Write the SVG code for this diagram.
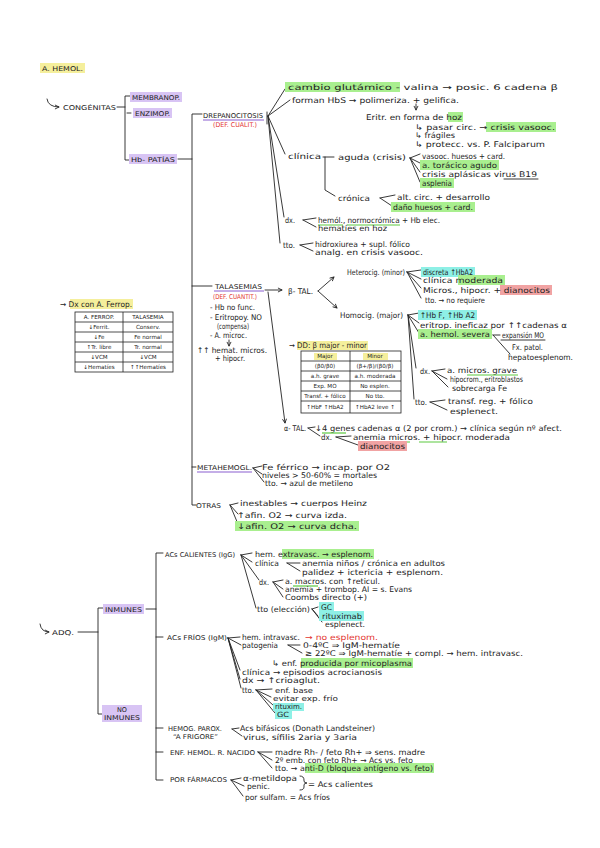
<svg xmlns="http://www.w3.org/2000/svg" width="600" height="848" viewBox="0 0 600 848">
<defs>
<style>
text{font-family:"DejaVu Sans","Liberation Sans",sans-serif;font-size:7.8px;fill:#222}
.u{font-size:6.6px}
.s{font-size:5.6px}
.r{fill:#e3342f}
.hg{fill:#a9ef8f}
.hp{fill:#d8c4f4}
.hy{fill:#f5ef9c}
.hc{fill:#8ef0e6}
.hr{fill:#f1a3a3}
.ln{fill:none;stroke:#222;stroke-width:0.9;stroke-linecap:round}
.ul{fill:none;stroke-width:1.2}
.pu{stroke:#8a5fd0}
.gu{stroke:#5cc940}
.tb{fill:none;stroke:#222;stroke-width:0.8}
</style>
<marker id="ah" viewBox="0 0 8 8" refX="7" refY="4" markerWidth="6" markerHeight="6" orient="auto"><path d="M1,1 L7,4 L1,7" fill="none" stroke="#222" stroke-width="1.3"/></marker>
</defs>
<rect width="600" height="848" fill="#ffffff"/>

<g id="connectors">
<path class="ln" d="M47,99 Q48,107 59,107" marker-end="url(#ah)"/>
<path class="ln" d="M117,107 H125 M130,96 H125 V160 H130 M127,113 H131"/>
<path class="ln" d="M178,159 H192 M202,114 H192 V505 H196 M192,286 H212 M192,467 H196"/>
<path class="ln" d="M267,112 V124" stroke-width="2"/>
<path class="ln" d="M268,116 L285,89 M268,116 L290,100 M268,116 L285,154 M268,116 L284,217 M268,116 L280,243"/>
<path class="ln" d="M416,104 V110" marker-end="url(#ah)"/>
<path class="ln" d="M323,157 H334 M325,157 V190 L335,196"/>
<path class="ln" d="M410,158 L420,154 M410,158 L420,163 M410,158 L420,172 M410,158 L420,182"/>
<path class="ln" d="M380,198 L395,195 M380,198 L392,206"/>
<path class="ln" d="M303,220 L316,218 M303,220 L316,227"/>
<path class="ln" d="M300,245 L313,243 M300,245 L313,251"/>
<path class="ln" d="M265,290 H282" marker-end="url(#ah)"/>
<path class="ln" d="M268,292 L285,423" marker-end="url(#ah)"/>
<path class="ln" d="M229,340 V346" marker-end="url(#ah)"/>
<path class="ln" d="M318,291 L334,277" marker-end="url(#ah)"/>
<path class="ln" d="M318,291 L337,308" marker-end="url(#ah)"/>
<path class="ln" d="M407,272 L421,270 M407,272 L421,279 M407,272 L421,288 M407,272 L421,298"/>
<path class="ln" d="M408,315 L419,313 M408,315 L419,323 M408,315 L419,333 M408,315 L416,368 M408,315 L414,399"/>
<path class="ln" d="M493,335 H500 M493,335 L510,354"/>
<path class="ln" d="M432,371 L445,369 M432,371 L447,379 M432,371 L448,387"/>
<path class="ln" d="M430,402 L445,400 M430,402 L447,410"/>
<path class="ln" d="M308,428 L315,427 M308,428 L320,436"/>
<path class="ln" d="M336,437 L351,436 M336,437 L358,445"/>
<path class="ln" d="M253,468 L262,466 M253,468 L262,474 M253,468 L264,482"/>
<path class="ln" d="M230,505 L238,503 M230,505 L238,514 M230,505 L238,524"/>
<path class="ln" d="M40,624 Q41,632 49,632" marker-end="url(#ah)"/>
<path class="ln" d="M78,632 H98 M104,608 H98 V714 H104"/>
<path class="ln" d="M146,609 H156 M163,553 H156 V780 H163 M156,637 H163 M156,728 H163 M156,752 H163"/>
<path class="ln" d="M241,555 L252,553 M241,555 L252,562 M241,555 L259,580 M241,555 L256,608"/>
<path class="ln" d="M287,563 L300,563 M287,563 L300,571"/>
<path class="ln" d="M273,582 L283,580 M273,582 L283,589 M273,582 L283,597"/>
<path class="ln" d="M312,609 L318,607 M312,609 L318,616 M312,609 L322,622"/>
<path class="ln" d="M228,638 L240,637 M228,638 L241,645 M228,638 L240,670 M228,638 L240,679 M228,638 L241,688"/>
<path class="ln" d="M288,645 L300,645 M288,645 L302,653"/>
<path class="ln" d="M256,690 L272,689 M256,690 L271,697 M256,690 L273,705 M256,690 L275,713"/>
<path class="ln" d="M232,729 L239,728 M232,729 L242,736"/>
<path class="ln" d="M258,752 L272,752 M258,752 L272,760 M258,752 L272,768"/>
<path class="ln" d="M231,780 L241,778 M231,780 L244,786 M231,780 L243,796"/>
<path class="ln" d="M300,776 Q304,776 304,780 V781 Q304,783 307,783 Q304,783 304,785 V787 Q304,790 300,790"/>
</g>

<g id="title">
<rect class="hy" x="40" y="63" width="45" height="10"/>
<text class="u" x="42" y="71" textLength="41" lengthAdjust="spacingAndGlyphs">A. HEMOL.</text>
</g>

<g id="congenitas">
<text class="u" x="63" y="110" textLength="53" lengthAdjust="spacingAndGlyphs">CONGÉNITAS</text>
</g>
<g id="membranop">
<rect class="hp" x="130" y="92" width="52" height="10"/>
<text class="u" x="132" y="100" textLength="48" lengthAdjust="spacingAndGlyphs">MEMBRANOP.</text>
</g>
<g id="enzimop">
<rect class="hp" x="133" y="108" width="39" height="10"/>
<text class="u" x="135" y="116" textLength="35" lengthAdjust="spacingAndGlyphs">ENZIMOP.</text>
</g>
<g id="hbpatias">
<rect class="hp" x="129" y="154" width="48" height="10"/>
<text class="u" x="131" y="162" textLength="44" lengthAdjust="spacingAndGlyphs">Hb- PATÍAS</text>
</g>

<g id="drepanocitosis">
<text class="u" x="203" y="118" textLength="60" lengthAdjust="spacingAndGlyphs">DREPANOCITOSIS</text>
<path class="ul pu" d="M203,120 H264"/>
<text class="u r" x="213" y="127" textLength="44" lengthAdjust="spacingAndGlyphs">(DEF. CUALIT.)</text>
</g>
<g id="drep-detalle">
<rect class="hg" x="285" y="82" width="115" height="10"/>
<text x="288" y="90" textLength="270" lengthAdjust="spacingAndGlyphs">cambio glutámico - valina → posic. 6 cadena β</text>
<text x="292" y="103" textLength="167" lengthAdjust="spacingAndGlyphs">forman HbS → polimeriza. + gelifica.</text>
<rect class="hg" x="448" y="112" width="15" height="10"/>
<text x="366" y="120" textLength="96" lengthAdjust="spacingAndGlyphs">Eritr. en forma de hoz</text>
<rect class="hg" x="486" y="122" width="70" height="10"/>
<text x="415" y="130" textLength="140" lengthAdjust="spacingAndGlyphs">↳ pasar circ. → crisis vasooc.</text>
<text x="415" y="138" textLength="40" lengthAdjust="spacingAndGlyphs">↳ frágiles</text>
<text x="415" y="147" textLength="130" lengthAdjust="spacingAndGlyphs">↳ protecc. vs. P. Falciparum</text>
<text x="288" y="159" textLength="33" lengthAdjust="spacingAndGlyphs">clínica</text>
<text x="338" y="160" textLength="68" lengthAdjust="spacingAndGlyphs">aguda (crisis)</text>
<text x="422" y="159" textLength="83" lengthAdjust="spacingAndGlyphs">vasooc. huesos + card.</text>
<rect class="hg" x="420" y="160" width="79" height="10"/>
<text x="422" y="168" textLength="75" lengthAdjust="spacingAndGlyphs">a. torácico agudo</text>
<text x="422" y="177" textLength="115" lengthAdjust="spacingAndGlyphs">crisis aplásicas virus B19</text>
<path class="ln" d="M504,179 H538"/>
<rect class="hg" x="420" y="178" width="34" height="10"/>
<text x="422" y="186" textLength="30" lengthAdjust="spacingAndGlyphs">asplenia</text>
<text x="338" y="201" textLength="32" lengthAdjust="spacingAndGlyphs">crónica</text>
<text x="397" y="200" textLength="93" lengthAdjust="spacingAndGlyphs">alt. circ. + desarrollo</text>
<rect class="hg" x="391" y="202" width="84" height="10"/>
<text x="393" y="210" textLength="80" lengthAdjust="spacingAndGlyphs">daño huesos + card.</text>
<text x="285" y="223" textLength="10" lengthAdjust="spacingAndGlyphs">dx.</text>
<text x="318" y="223" textLength="122" lengthAdjust="spacingAndGlyphs">hemól., normocrómica + Hb elec.</text>
<path class="ul gu" d="M318,225 H343 M347,225 H400"/>
<text x="318" y="231" textLength="69" lengthAdjust="spacingAndGlyphs">hematíes en hoz</text>
<text x="283" y="248" textLength="12" lengthAdjust="spacingAndGlyphs">tto.</text>
<text x="315" y="247" textLength="95" lengthAdjust="spacingAndGlyphs">hidroxiurea + supl. fólico</text>
<text x="315" y="255" textLength="108" lengthAdjust="spacingAndGlyphs">analg. en crisis vasooc.</text>
</g>

<g id="dx-ferrop">
<rect class="hy" x="70" y="299" width="63" height="10"/>
<text x="60" y="307" textLength="72" lengthAdjust="spacingAndGlyphs">→ Dx con A. Ferrop.</text>
<rect class="tb" x="75" y="312" width="98" height="60"/>
<path class="tb" d="M123,312 V372 M75,322 H173 M75,332 H173 M75,342 H173 M75,352 H173 M75,362 H173"/>
<g text-anchor="middle">
<text class="s" x="99" y="319">A. FERROP.</text><text class="s" x="148" y="319">TALASEMIA</text>
<text class="s" x="99" y="329">↓Ferrit.</text><text class="s" x="148" y="329">Conserv.</text>
<text class="s" x="99" y="339">↓Fe</text><text class="s" x="148" y="339">Fe normal</text>
<text class="s" x="99" y="349">↑Tr. libre</text><text class="s" x="148" y="349">Tr. normal</text>
<text class="s" x="99" y="359">↓VCM</text><text class="s" x="148" y="359">↓VCM</text>
<text class="s" x="99" y="369">↓Hematíes</text><text class="s" x="148" y="369">↑↑Hematíes</text>
</g>
</g>

<g id="talasemias">
<text class="u" x="215" y="289" textLength="47" lengthAdjust="spacingAndGlyphs">TALASEMIAS</text>
<path class="ul pu" d="M214,291 H264"/>
<text class="u r" x="213" y="299" textLength="44" lengthAdjust="spacingAndGlyphs">(DEF. CUANTIT.)</text>
<text x="210" y="310" textLength="45" lengthAdjust="spacingAndGlyphs">- Hb no func.</text>
<text x="210" y="320" textLength="52" lengthAdjust="spacingAndGlyphs">- Eritropoy. NO</text>
<text x="217" y="329" textLength="32" lengthAdjust="spacingAndGlyphs">(compensa)</text>
<text x="210" y="338" textLength="37" lengthAdjust="spacingAndGlyphs">- A. microc.</text>
<text x="197" y="353" textLength="70" lengthAdjust="spacingAndGlyphs">↑↑ hemat. micros.</text>
<text x="215" y="361" textLength="30" lengthAdjust="spacingAndGlyphs">+ hipocr.</text>
</g>

<g id="beta-tal">
<text x="288" y="294" textLength="25" lengthAdjust="spacingAndGlyphs">β- TAL.</text>
<text x="347" y="275" textLength="58" lengthAdjust="spacingAndGlyphs">Heterocig. (minor)</text>
<rect class="hc" x="421" y="267" width="54" height="10"/>
<text x="423" y="275" textLength="50" lengthAdjust="spacingAndGlyphs">discreta ↑HbA2</text>
<rect class="hg" x="458" y="275" width="47" height="10"/>
<text x="423" y="283" textLength="80" lengthAdjust="spacingAndGlyphs">clínica moderada</text>
<rect class="hr" x="500" y="285" width="52" height="10"/>
<text x="423" y="293" textLength="127" lengthAdjust="spacingAndGlyphs">Micros., hipocr. + dianocitos</text>
<text x="425" y="303" textLength="60" lengthAdjust="spacingAndGlyphs">tto. → no requiere</text>
<text x="340" y="318" textLength="63" lengthAdjust="spacingAndGlyphs">Homocig. (major)</text>
<rect class="hc" x="418" y="310" width="59" height="10"/>
<text x="420" y="318" textLength="55" lengthAdjust="spacingAndGlyphs">↑Hb F, ↑Hb A2</text>
<text x="420" y="328" textLength="147" lengthAdjust="spacingAndGlyphs">eritrop. ineficaz por ↑↑cadenas α</text>
<rect class="hg" x="418" y="329" width="74" height="10"/>
<text x="420" y="337" textLength="70" lengthAdjust="spacingAndGlyphs">a. hemol. severa</text>
<text x="502" y="338" textLength="42" lengthAdjust="spacingAndGlyphs">expansión MO</text>
<path class="ln" d="M501,340 H545"/>
<text x="512" y="350" textLength="31" lengthAdjust="spacingAndGlyphs">Fx. patol.</text>
<text x="508" y="360" textLength="65" lengthAdjust="spacingAndGlyphs">hepatoesplenom.</text>
<text x="420" y="374" textLength="10" lengthAdjust="spacingAndGlyphs">dx.</text>
<text x="447" y="373" textLength="70" lengthAdjust="spacingAndGlyphs">a. micros. grave</text>
<path class="ul gu" d="M467,375 H518"/>
<text x="450" y="382" textLength="73" lengthAdjust="spacingAndGlyphs">hipocrom., eritroblastos</text>
<text x="452" y="391" textLength="55" lengthAdjust="spacingAndGlyphs">sobrecarga Fe</text>
<text x="415" y="405" textLength="12" lengthAdjust="spacingAndGlyphs">tto.</text>
<text x="448" y="404" textLength="85" lengthAdjust="spacingAndGlyphs">transf. reg. + fólico</text>
<text x="450" y="414" textLength="48" lengthAdjust="spacingAndGlyphs">esplenect.</text>
</g>

<g id="dd-table">
<rect class="hy" x="297" y="341" width="71" height="9"/>
<text x="289" y="348" textLength="78" lengthAdjust="spacingAndGlyphs">→ DD: β major - minor</text>
<rect class="tb" x="301" y="351" width="100" height="62"/>
<path class="tb" d="M350,351 V413 M301,361 H401 M301,371 H401 M301,381 H401 M301,391 H401 M301,401 H401"/>
<rect class="hy" x="314" y="353" width="23" height="7"/>
<rect class="hy" x="363" y="353" width="25" height="7"/>
<g text-anchor="middle">
<text class="s" x="325" y="358">Major</text><text class="s" x="375" y="358">Minor</text>
<text class="s" x="325" y="368">(β0/β0)</text><text class="s" x="375" y="368">(β+/β)/(β0/β)</text>
<text class="s" x="325" y="378">a.h. grave</text><text class="s" x="375" y="378">a.h. moderada</text>
<text class="s" x="325" y="388">Exp. MO</text><text class="s" x="375" y="388">No esplen.</text>
<text class="s" x="325" y="398">Transf. + fólico</text><text class="s" x="375" y="398">No tto.</text>
<text class="s" x="325" y="409">↑HbF ↑HbA2</text><text class="s" x="375" y="409">↑HbA2 leve ↑</text>
</g>
</g>

<g id="alfa-tal">
<text x="284" y="431" textLength="22" lengthAdjust="spacingAndGlyphs">α- TAL.</text>
<text x="315" y="431" textLength="247" lengthAdjust="spacingAndGlyphs">↓4 genes cadenas α (2 por crom.) → clínica según nº afect.</text>
<path class="ul gu" d="M322,433 H346"/>
<text x="321" y="440" textLength="11" lengthAdjust="spacingAndGlyphs">dx.</text>
<text x="353" y="440" textLength="157" lengthAdjust="spacingAndGlyphs">anemia micros. + hipocr. moderada</text>
<path class="ul gu" d="M384,442 H410 M419,442 H447"/>
<rect class="hr" x="358" y="441" width="49" height="10"/>
<text x="360" y="449" textLength="45" lengthAdjust="spacingAndGlyphs">dianocitos</text>
</g>

<g id="metahemogl">
<text class="u" x="197" y="470" textLength="55" lengthAdjust="spacingAndGlyphs">METAHEMOGL.</text>
<path class="ul pu" d="M197,472 H252"/>
<text x="262" y="470" textLength="128" lengthAdjust="spacingAndGlyphs">Fe férrico → incap. por O2</text>
<text x="262" y="478" textLength="115" lengthAdjust="spacingAndGlyphs">niveles &gt; 50-60% = mortales</text>
<text x="265" y="486" textLength="88" lengthAdjust="spacingAndGlyphs">tto. → azul de metileno</text>
</g>

<g id="otras">
<text class="u" x="196" y="508" textLength="25" lengthAdjust="spacingAndGlyphs">OTRAS</text>
<text x="240" y="506" textLength="127" lengthAdjust="spacingAndGlyphs">inestables → cuerpos Heinz</text>
<text x="237" y="518" textLength="110" lengthAdjust="spacingAndGlyphs">↑afin. O2 → curva izda.</text>
<rect class="hg" x="235" y="521" width="124" height="10"/>
<text x="237" y="529" textLength="120" lengthAdjust="spacingAndGlyphs">↓afin. O2 → curva dcha.</text>
</g>

<g id="adq">
<text class="u" x="52" y="635" textLength="22" lengthAdjust="spacingAndGlyphs">ADQ.</text>
</g>
<g id="inmunes">
<rect class="hp" x="103" y="604" width="41" height="10"/>
<text class="u" x="105" y="612" textLength="37" lengthAdjust="spacingAndGlyphs">INMUNES</text>
</g>
<g id="no-inmunes">
<rect class="hp" x="102" y="705" width="40" height="17"/>
<text class="u" x="117" y="712" textLength="10" lengthAdjust="spacingAndGlyphs">NO</text>
<text class="u" x="104" y="720" textLength="36" lengthAdjust="spacingAndGlyphs">INMUNES</text>
</g>

<g id="acs-calientes">
<text class="u" x="165" y="557" textLength="70" lengthAdjust="spacingAndGlyphs">ACs CALIENTES (IgG)</text>
<rect class="hg" x="282" y="549" width="92" height="10"/>
<text x="255" y="557" textLength="118" lengthAdjust="spacingAndGlyphs">hem. extravasc. → esplenom.</text>
<text x="255" y="566" textLength="24" lengthAdjust="spacingAndGlyphs">clínica</text>
<text x="302" y="566" textLength="143" lengthAdjust="spacingAndGlyphs">anemia niños / crónica en adultos</text>
<text x="302" y="575" textLength="141" lengthAdjust="spacingAndGlyphs">palidez + ictericia + esplenom.</text>
<text x="259" y="585" textLength="10" lengthAdjust="spacingAndGlyphs">dx.</text>
<text x="285" y="584" textLength="95" lengthAdjust="spacingAndGlyphs">a. macros. con ↑reticul.</text>
<path class="ul gu" d="M293,586 H318"/>
<text x="285" y="592" textLength="127" lengthAdjust="spacingAndGlyphs">anemia + trombop. AI = s. Evans</text>
<text x="285" y="600" textLength="82" lengthAdjust="spacingAndGlyphs">Coombs directo (+)</text>
<text x="257" y="612" textLength="53" lengthAdjust="spacingAndGlyphs">tto (elección)</text>
<rect class="hc" x="319" y="602" width="15" height="10"/>
<text x="321" y="610" textLength="11" lengthAdjust="spacingAndGlyphs">GC</text>
<rect class="hc" x="319" y="611" width="45" height="10"/>
<text x="322" y="619" textLength="40" lengthAdjust="spacingAndGlyphs">rituximab</text>
<text x="325" y="627" textLength="40" lengthAdjust="spacingAndGlyphs">esplenect.</text>
</g>

<g id="acs-frios">
<text class="u" x="167" y="640" textLength="60" lengthAdjust="spacingAndGlyphs">ACs FRÍOS (IgM)</text>
<text x="242" y="640" textLength="58" lengthAdjust="spacingAndGlyphs">hem. intravasc.</text>
<text class="r" x="305" y="640" textLength="73" lengthAdjust="spacingAndGlyphs">→ no esplenom.</text>
<text x="242" y="648" textLength="36" lengthAdjust="spacingAndGlyphs">patogenia</text>
<text x="303" y="648" textLength="97" lengthAdjust="spacingAndGlyphs">0-4ºC ⇒ IgM-hematíe</text>
<text x="305" y="656" textLength="218" lengthAdjust="spacingAndGlyphs">≥ 22ºC ⇒ IgM-hematíe + compl. → hem. intravasc.</text>
<rect class="hg" x="301" y="658" width="112" height="10"/>
<text x="272" y="666" textLength="140" lengthAdjust="spacingAndGlyphs">↳ enf. producida por micoplasma</text>
<text x="242" y="675" textLength="140" lengthAdjust="spacingAndGlyphs">clínica → episodios acrocianosis</text>
<text x="242" y="683" textLength="78" lengthAdjust="spacingAndGlyphs">dx → ↑crioaglut.</text>
<text x="242" y="693" textLength="12" lengthAdjust="spacingAndGlyphs">tto.</text>
<text x="275" y="693" style="font-size:7.2px" textLength="38" lengthAdjust="spacingAndGlyphs">enf. base</text>
<text x="273" y="701" style="font-size:7.2px" textLength="65" lengthAdjust="spacingAndGlyphs">evitar exp. frío</text>
<rect class="hc" x="273" y="703" width="31" height="8"/>
<text x="275" y="709" style="font-size:7.2px" textLength="27" lengthAdjust="spacingAndGlyphs">rituxim.</text>
<rect class="hc" x="275" y="711" width="17" height="8"/>
<text x="277" y="717" style="font-size:7.2px" textLength="12" lengthAdjust="spacingAndGlyphs">GC</text>
</g>

<g id="hemog-parox">
<text class="u" x="168" y="731" textLength="54" lengthAdjust="spacingAndGlyphs">HEMOG. PAROX.</text>
<text class="u" x="173" y="739" textLength="45" lengthAdjust="spacingAndGlyphs">“A FRIGORE”</text>
<text x="240" y="731" textLength="135" lengthAdjust="spacingAndGlyphs">Acs bifásicos (Donath Landsteiner)</text>
<text x="243" y="740" textLength="114" lengthAdjust="spacingAndGlyphs">virus, sífilis 2aria y 3aria</text>
</g>

<g id="enf-hemol-rn">
<text class="u" x="170" y="755" textLength="85" lengthAdjust="spacingAndGlyphs">ENF. HEMOL. R. NACIDO</text>
<text x="275" y="755" textLength="150" lengthAdjust="spacingAndGlyphs">madre Rh- / feto Rh+ ⇒ sens. madre</text>
<text x="275" y="763" textLength="138" lengthAdjust="spacingAndGlyphs">2º emb. con feto Rh+ → Acs vs. feto</text>
<rect class="hg" x="305" y="763" width="129" height="10"/>
<text x="275" y="771" textLength="158" lengthAdjust="spacingAndGlyphs">tto. → anti-D (bloquea antígeno vs. feto)</text>
</g>

<g id="por-farmacos">
<text class="u" x="170" y="782" textLength="57" lengthAdjust="spacingAndGlyphs">POR FÁRMACOS</text>
<text x="243" y="781" textLength="54" lengthAdjust="spacingAndGlyphs">α-metildopa</text>
<text x="247" y="789" textLength="23" lengthAdjust="spacingAndGlyphs">penic.</text>
<text x="308" y="787" textLength="65" lengthAdjust="spacingAndGlyphs">= Acs calientes</text>
<text x="245" y="800" textLength="85" lengthAdjust="spacingAndGlyphs">por sulfam. = Acs fríos</text>
</g>
</svg>
